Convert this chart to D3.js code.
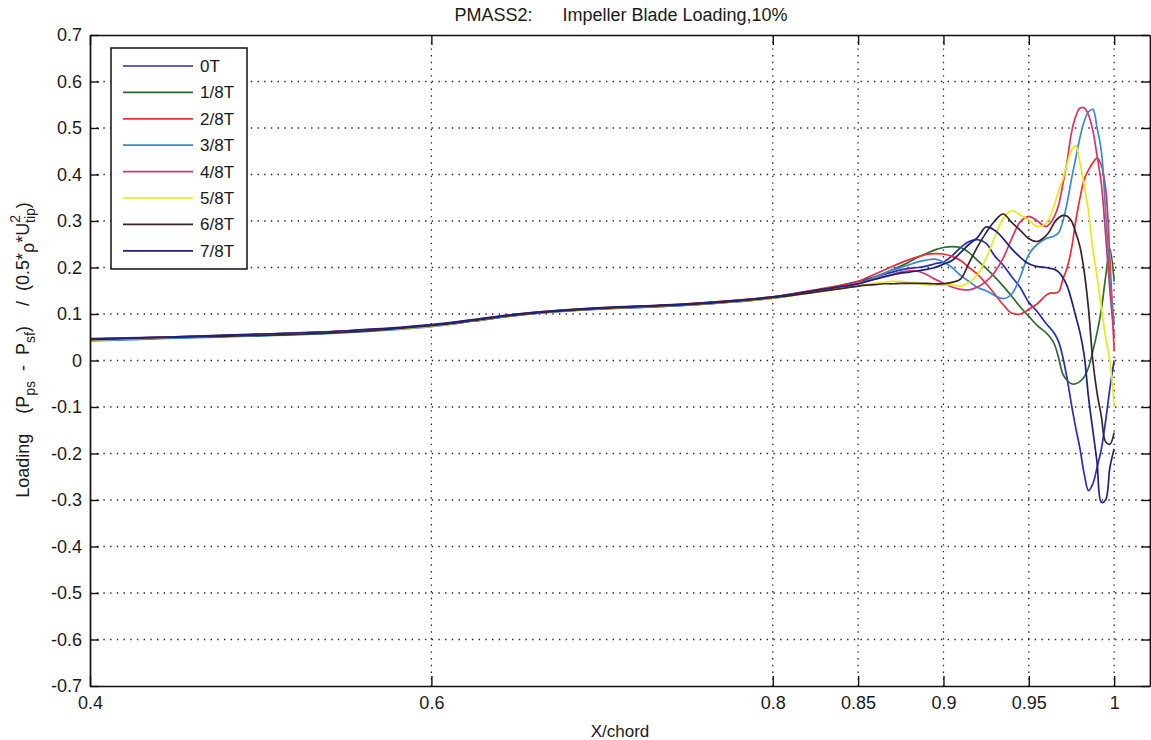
<!DOCTYPE html>
<html>
<head>
<meta charset="utf-8">
<script src="https://cdn.jsdelivr.net/npm/d3@7"></script>
<style>
  body { margin: 0; background: #fff; }
  svg { display: block; font-family: "Liberation Sans", Arial, sans-serif; }
  text { white-space: pre; }
</style>
</head>
<body>
<svg id="chart" width="1151" height="740"></svg>
<script>
// chordwise sample positions (X/chord)
const xs = [0.40, 0.45, 0.50, 0.55, 0.60, 0.625, 0.65, 0.675, 0.70, 0.75, 0.80, 0.825,
  0.85, 0.855, 0.86, 0.865, 0.87, 0.875, 0.88, 0.885, 0.89, 0.895, 0.90, 0.905, 0.91, 0.915,
  0.92, 0.925, 0.93, 0.935, 0.94, 0.945, 0.95, 0.955,
  0.96, 0.9625, 0.965, 0.9675, 0.97, 0.9725, 0.975, 0.9775, 0.98, 0.9825, 0.985, 0.9875,
  0.99, 0.9925, 0.995, 0.9975, 1.0];

const load0T = [0.047, 0.051, 0.056, 0.063, 0.074, 0.085, 0.097, 0.106, 0.111, 0.119, 0.134, 0.150,
  0.170, 0.175, 0.180, 0.185, 0.190, 0.195, 0.198, 0.200, 0.203, 0.208, 0.212, 0.225, 0.243, 0.256,
  0.260, 0.252, 0.225, 0.205, 0.180, 0.157, 0.125, 0.105,
  0.080, 0.070, 0.058, 0.040, 0.006, -0.040, -0.095, -0.145, -0.190, -0.245, -0.280, -0.265,
  -0.230, -0.190, -0.130, -0.060, 0.000];
const load1_8T = [0.044, 0.049, 0.054, 0.061, 0.075, 0.087, 0.099, 0.107, 0.113, 0.121, 0.136, 0.150,
  0.165, 0.172, 0.180, 0.187, 0.195, 0.203, 0.212, 0.222, 0.230, 0.238, 0.243, 0.245, 0.243, 0.232,
  0.215, 0.198, 0.180, 0.160, 0.138, 0.115, 0.095, 0.075,
  0.060, 0.050, 0.035, 0.005, -0.030, -0.043, -0.050, -0.050, -0.045, -0.035, -0.015, 0.020,
  0.060, 0.110, 0.180, 0.240, 0.170];
const load2_8T = [0.043, 0.049, 0.055, 0.062, 0.076, 0.088, 0.100, 0.108, 0.113, 0.122, 0.137, 0.152,
  0.170, 0.178, 0.186, 0.194, 0.202, 0.210, 0.217, 0.223, 0.228, 0.230, 0.229, 0.224, 0.215, 0.200,
  0.185, 0.165, 0.143, 0.120, 0.102, 0.100, 0.110, 0.122,
  0.140, 0.145, 0.145, 0.148, 0.175, 0.200, 0.240, 0.300, 0.350, 0.390, 0.410, 0.425,
  0.435, 0.420, 0.370, 0.220, 0.020];
const load3_8T = [0.042, 0.048, 0.053, 0.060, 0.073, 0.085, 0.097, 0.105, 0.111, 0.119, 0.134, 0.149,
  0.165, 0.172, 0.180, 0.187, 0.194, 0.200, 0.206, 0.212, 0.216, 0.218, 0.212, 0.200, 0.183, 0.170,
  0.157, 0.150, 0.140, 0.133, 0.143, 0.180, 0.228, 0.250,
  0.262, 0.265, 0.268, 0.275, 0.300, 0.340, 0.390, 0.435, 0.480, 0.515, 0.535, 0.540,
  0.500, 0.450, 0.320, 0.180, 0.080];
const load4_8T = [0.046, 0.051, 0.056, 0.063, 0.076, 0.087, 0.099, 0.107, 0.112, 0.121, 0.136, 0.150,
  0.165, 0.170, 0.175, 0.180, 0.185, 0.190, 0.193, 0.192, 0.185, 0.175, 0.166, 0.158, 0.153, 0.152,
  0.158, 0.170, 0.190, 0.220, 0.262, 0.298, 0.310, 0.300,
  0.288, 0.295, 0.310, 0.335, 0.380, 0.430, 0.490, 0.525, 0.543, 0.543, 0.528, 0.495,
  0.440, 0.380, 0.270, 0.150, 0.050];
const load5_8T = [0.044, 0.050, 0.055, 0.062, 0.074, 0.086, 0.098, 0.106, 0.112, 0.120, 0.134, 0.147,
  0.160, 0.163, 0.166, 0.168, 0.170, 0.170, 0.168, 0.166, 0.163, 0.162, 0.162, 0.163, 0.160, 0.168,
  0.185, 0.220, 0.265, 0.305, 0.322, 0.313, 0.302, 0.288,
  0.295, 0.310, 0.335, 0.365, 0.390, 0.425, 0.452, 0.462, 0.425, 0.375, 0.320, 0.240,
  0.180, 0.115, 0.050, 0.000, -0.100];
const load6_8T = [0.045, 0.050, 0.054, 0.061, 0.075, 0.086, 0.098, 0.106, 0.112, 0.120, 0.135, 0.147,
  0.160, 0.162, 0.163, 0.165, 0.165, 0.166, 0.166, 0.166, 0.166, 0.165, 0.165, 0.168, 0.175, 0.210,
  0.245, 0.275, 0.300, 0.315, 0.297, 0.280, 0.262, 0.256,
  0.268, 0.280, 0.297, 0.307, 0.312, 0.310, 0.300, 0.275, 0.244, 0.190, 0.110, 0.000,
  -0.070, -0.120, -0.175, -0.180, -0.155];
const load7_8T = [0.046, 0.051, 0.057, 0.064, 0.077, 0.088, 0.100, 0.108, 0.114, 0.122, 0.137, 0.151,
  0.165, 0.170, 0.175, 0.180, 0.184, 0.188, 0.190, 0.193, 0.196, 0.200, 0.207, 0.215, 0.232, 0.250,
  0.265, 0.287, 0.280, 0.262, 0.240, 0.222, 0.208, 0.202,
  0.200, 0.198, 0.196, 0.190, 0.178, 0.160, 0.130, 0.095, 0.060, 0.010, -0.080, -0.150,
  -0.220, -0.305, -0.300, -0.230, -0.190];

const seriesNames = ["0T", "1/8T", "2/8T", "3/8T", "4/8T", "5/8T", "6/8T", "7/8T"];
const seriesValues = [load0T, load1_8T, load2_8T, load3_8T, load4_8T, load5_8T, load6_8T, load7_8T];
const seriesColors = ["#2c2cae", "#2e6b30", "#e8303c", "#3b87d3", "#d8346a", "#ece816", "#3a2326", "#20207e"];

const xTicks = [0.4, 0.6, 0.8, 0.85, 0.9, 0.95, 1];
const yTicks = d3.range(-7, 8).map(d => d / 10);

const svg = d3.select("#chart");
const plotL = 90, plotR = 1150, plotT = 35, plotB = 686;

const x = d3.scaleLinear().domain([0.4, 1.021]).range([plotL, plotR]);
const y = d3.scaleLinear().domain([-0.7, 0.7]).range([plotB, plotT]);

svg.append("defs").append("clipPath").attr("id", "plot-clip")
  .append("rect").attr("x", plotL).attr("y", plotT).attr("width", plotR - plotL).attr("height", plotB - plotT);

// dotted grid
const grid = svg.append("g").attr("stroke", "#222").attr("stroke-width", 1.3).attr("stroke-dasharray", "1.4 5.3");
grid.selectAll("line.gx").data(xTicks.slice(1)).join("line").attr("class", "gx")
  .attr("x1", d => x(d)).attr("x2", d => x(d)).attr("y1", plotT).attr("y2", plotB);
grid.selectAll("line.gy").data(yTicks.slice(1, -1)).join("line").attr("class", "gy")
  .attr("x1", plotL).attr("x2", plotR).attr("y1", d => y(d)).attr("y2", d => y(d));

// curves
const line = d3.line().x(d => x(d[0])).y(d => y(d[1])).curve(d3.curveCatmullRom.alpha(0.5));
svg.append("g").attr("clip-path", "url(#plot-clip)")
  .selectAll("path").data(seriesValues).join("path")
  .attr("fill", "none")
  .attr("stroke", (d, i) => seriesColors[i])
  .attr("stroke-width", 1.7)
  .attr("stroke-linejoin", "round")
  .attr("d", vals => line(vals.map((v, i) => [xs[i], v])));

// axes (ticks pointing inward, box on)
const fmt = d => String(d);
const styleAxis = g => {
  g.selectAll(".domain").attr("stroke", "#111").attr("stroke-width", 1.7);
  g.selectAll(".tick line").attr("stroke", "#111").attr("stroke-width", 1.4);
  g.selectAll("text").attr("fill", "#1a1a1a").style("font-size", "18px").style("font-family", "'Liberation Sans', Arial, sans-serif");
};
svg.append("g").attr("transform", `translate(0,${plotB})`)
  .call(d3.axisBottom(x).tickValues(xTicks).tickFormat(fmt).tickSizeInner(-10).tickSizeOuter(0).tickPadding(10))
  .call(styleAxis);
svg.append("g").attr("transform", `translate(0,${plotT})`)
  .call(d3.axisTop(x).tickValues(xTicks).tickFormat("").tickSizeInner(-10).tickSizeOuter(0))
  .call(styleAxis);
svg.append("g").attr("transform", `translate(${plotL},0)`)
  .call(d3.axisLeft(y).tickValues(yTicks).tickFormat(fmt).tickSizeInner(-9).tickSizeOuter(0).tickPadding(8))
  .call(styleAxis);
svg.append("g").attr("transform", `translate(${plotR},0)`)
  .call(d3.axisRight(y).tickValues(yTicks).tickFormat("").tickSizeInner(-9).tickSizeOuter(0))
  .call(styleAxis);

// legend
const lg = svg.append("g");
lg.append("rect").attr("x", 111).attr("y", 48).attr("width", 136).attr("height", 221)
  .attr("fill", "#fff").attr("stroke", "#111").attr("stroke-width", 1.5);
const rows = lg.selectAll("g.row").data(seriesNames).join("g").attr("class", "row")
  .attr("transform", (d, i) => `translate(0,${66 + i * 26.4})`);
rows.append("line").attr("x1", 123).attr("x2", 193).attr("y1", 0).attr("y2", 0)
  .attr("stroke", (d, i) => seriesColors[i]).attr("stroke-width", 1.7);
rows.append("text").attr("x", 200).attr("y", 0).attr("dy", "0.35em")
  .style("font-size", "17px").attr("fill", "#1a1a1a").text(d => d);

// title and axis labels
svg.append("text").attr("x", 621).attr("y", 21).attr("text-anchor", "middle")
  .style("font-size", "18px").attr("fill", "#1a1a1a")
  .text("PMASS2:      Impeller Blade Loading,10%");
svg.append("text").attr("x", 620).attr("y", 737).attr("text-anchor", "middle")
  .style("font-size", "17px").attr("fill", "#1a1a1a").text("X/chord");

const yl = svg.append("text").attr("transform", "translate(29,350) rotate(-90)")
  .attr("text-anchor", "middle").style("font-size", "18px").attr("fill", "#1a1a1a");
yl.append("tspan").text("Loading    (P");
yl.append("tspan").attr("dy", 6).style("font-size", "14px").text("ps");
yl.append("tspan").attr("dy", -6).text("  -  P");
yl.append("tspan").attr("dy", 6).style("font-size", "14px").text("sf");
yl.append("tspan").attr("dy", -6).text(")    /  (0.5*");
yl.append("tspan").attr("dy", 5).text("ρ");
yl.append("tspan").attr("dy", -5).text("*U");
yl.append("tspan").attr("dy", -9).style("font-size", "14px").text("2");
yl.append("tspan").attr("dx", -8).attr("dy", 15).style("font-size", "14px").text("tip");
yl.append("tspan").attr("dy", -6).text(")");
</script>
</body>
</html>
